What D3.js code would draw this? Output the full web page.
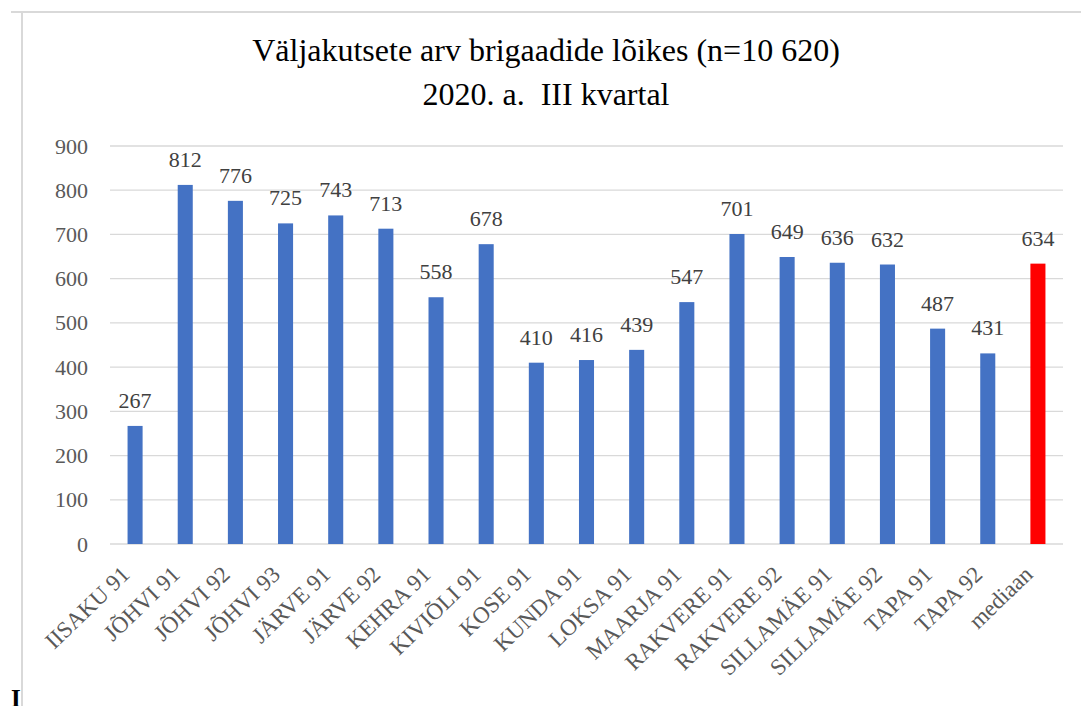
<html>
<script src="https://d3js.org/d3.v7.min.js"></script>
<body style="margin:0;background:#fff">
<div id="chart"></div>
<script>
// chart data
var categories = ["IISAKU 91", "JÕHVI 91", "JÕHVI 92", "JÕHVI 93", "JÄRVE 91", "JÄRVE 92",
  "KEHRA 91", "KIVIÕLI 91", "KOSE 91", "KUNDA 91", "LOKSA 91", "MAARJA 91", "RAKVERE 91",
  "RAKVERE 92", "SILLAMÄE 91", "SILLAMÄE 92", "TAPA 91", "TAPA 92", "mediaan"];
var values = [267, 812, 776, 725, 743, 713, 558, 678, 410, 416, 439, 547, 701, 649, 636, 632, 487, 431, 634];
var yTicks = [0, 100, 200, 300, 400, 500, 600, 700, 800, 900];
var titleLines = ["Väljakutsete arv brigaadide lõikes (n=10 620)", "2020. a.  III kvartal"];

var width = 1081, height = 706;
var font = "Liberation Serif";
var svg = d3.select("#chart").append("svg")
  .attr("width", width).attr("height", height);

// frame of the chart area
svg.append("line").attr("x1", 11).attr("x2", width).attr("y1", 12).attr("y2", 12)
  .attr("stroke", "#d9d9d9").attr("stroke-width", 2);
svg.append("line").attr("x1", 22).attr("x2", 22).attr("y1", 12).attr("y2", height)
  .attr("stroke", "#d9d9d9").attr("stroke-width", 2);

// scales
var x = d3.scaleBand().domain(categories).range([110, 1063]).paddingInner(0.7).paddingOuter(0.35);
var y = d3.scaleLinear().domain([0, 900]).range([544, 146]);

// gridlines
svg.append("g").selectAll("line").data(yTicks).join("line")
  .attr("x1", 110).attr("x2", 1063)
  .attr("y1", d => y(d)).attr("y2", d => y(d))
  .attr("stroke", "#d9d9d9").attr("stroke-width", 1.3);

// y axis labels
var yAxis = svg.append("g").attr("transform", "translate(88,0)")
  .call(d3.axisLeft(y).tickValues(yTicks).tickSize(0).tickPadding(0));
yAxis.select(".domain").remove();
yAxis.attr("font-family", null).attr("font-size", null);
yAxis.selectAll("text").style("font-family", font).style("font-size", "22px").attr("fill", "#595959");

// bars
svg.append("g").selectAll("rect").data(values).join("rect")
  .attr("x", (d, i) => x(categories[i]))
  .attr("width", x.bandwidth())
  .attr("y", d => y(d))
  .attr("height", d => y(0) - y(d))
  .attr("fill", (d, i) => categories[i] == "mediaan" ? "#ff0000" : "#4472c4");

// value labels
svg.append("g").selectAll("text").data(values).join("text")
  .attr("x", (d, i) => x(categories[i]) + x.bandwidth() / 2)
  .attr("y", d => y(d) - 18)
  .attr("text-anchor", "middle")
  .style("font-family", font).style("font-size", "22px").attr("fill", "#404040")
  .text(d => d);

// x axis labels (rotated)
var xAxis = svg.append("g").attr("transform", "translate(0,544)")
  .call(d3.axisBottom(x).tickSize(0).tickPadding(0));
xAxis.select(".domain").remove();
xAxis.attr("font-family", null).attr("font-size", null);
xAxis.selectAll("text")
  .style("font-family", font).style("font-size", "23px").attr("fill", "#595959")
  .attr("text-anchor", "end")
  .attr("dy", null).attr("y", 0)
  .attr("transform", "translate(-4,32) rotate(-44)");

// title
svg.append("g").selectAll("text").data(titleLines).join("text")
  .attr("x", 546).attr("y", (d, i) => 61 + i * 44)
  .attr("text-anchor", "middle")
  .style("white-space", "pre")
  .style("font-family", font).style("font-size", "32px").attr("fill", "#000")
  .text(d => d);

// stray mark bottom left
svg.append("text").attr("x", 11).attr("y", 707)
  .style("font-family", font).style("font-size", "25px").style("font-weight", "bold")
  .attr("fill", "#000").text("I");
</script>
</body>
</html>
